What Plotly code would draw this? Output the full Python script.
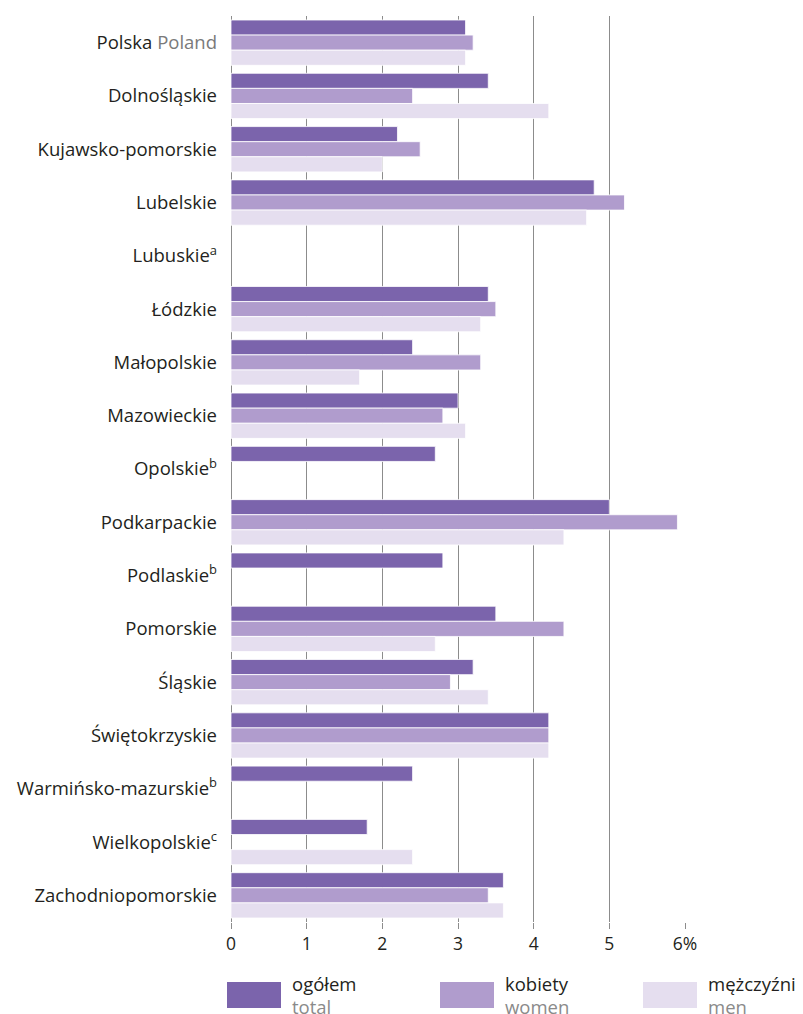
import plotly.graph_objects as go

regions = [
    "Polska <span style='color:#7a7a7a'>Poland</span>",
    "Dolnośląskie",
    "Kujawsko-pomorskie",
    "Lubelskie",
    "Lubuskie<sup>a</sup>",
    "Łódzkie",
    "Małopolskie",
    "Mazowieckie",
    "Opolskie<sup>b</sup>",
    "Podkarpackie",
    "Podlaskie<sup>b</sup>",
    "Pomorskie",
    "Śląskie",
    "Świętokrzyskie",
    "Warmińsko-mazurskie<sup>b</sup>",
    "Wielkopolskie<sup>c</sup>",
    "Zachodniopomorskie",
]
total = [3.1, 3.4, 2.2, 4.8, None, 3.4, 2.4, 3.0, 2.7, 5.0, 2.8, 3.5, 3.2, 4.2, 2.4, 1.8, 3.6]
women = [3.2, 2.4, 2.5, 5.2, None, 3.5, 3.3, 2.8, None, 5.9, None, 4.4, 2.9, 4.2, None, None, 3.4]
men = [3.1, 4.2, 2.0, 4.7, None, 3.3, 1.7, 3.1, None, 4.4, None, 2.7, 3.4, 4.2, None, 2.4, 3.6]

tick_vals = [0, 1, 2, 3, 4, 5, 6]
tick_text = ["0", "1", "2", "3", "4", "5", "6%"]

series = [
    ("ogółem", "total", total, "#7B64AC"),
    ("kobiety", "women", women, "#B09CCD"),
    ("mężczyźni", "men", men, "#E5DEEF"),
]

# page has an 8px body margin; figure sized to fit the window
OFF = 8
W, H = 803 - OFF, 1014 - OFF
L, R, T, B = 231 - OFF, 685 - OFF, 16 - OFF, 922 - OFF

fig = go.Figure()
for pl, en, vals, col in series:
    fig.add_trace(go.Bar(
        y=regions, x=vals, orientation="h", name=pl,
        marker=dict(color=col, line=dict(color="white", width=0.8)),
        showlegend=False,
    ))

def px(x):
    return (x - OFF - L) / (R - L)

def py(y):
    return (B - (y - OFF)) / (B - T)

leg_x = [227, 440, 643]
for (pl, en, vals, col), lx in zip(series, leg_x):
    fig.add_shape(type="rect", xref="paper", yref="paper",
                  x0=px(lx), x1=px(lx + 54), y0=py(1008), y1=py(982),
                  fillcolor=col, line=dict(width=0))
    fig.add_annotation(xref="paper", yref="paper", x=px(lx + 63), y=py(983),
                       text=pl, showarrow=False, xanchor="left", yanchor="middle",
                       font=dict(size=18.5, color="#231f20"))
    fig.add_annotation(xref="paper", yref="paper", x=px(lx + 63), y=py(1006),
                       text=en, showarrow=False, xanchor="left", yanchor="middle",
                       font=dict(size=18.5, color="#8a8a8a"))

fig.update_layout(
    width=W, height=H,
    margin=dict(l=L, r=W - R, t=T, b=H - B),
    paper_bgcolor="white", plot_bgcolor="white",
    barmode="group", bargap=0.15, bargroupgap=0,
    font=dict(family="Open Sans", size=18, color="#231f20"),
    xaxis=dict(range=[0, 6], tickvals=tick_vals, ticktext=tick_text,
               showgrid=True, gridcolor="#8c8c8c", gridwidth=1,
               zeroline=True, zerolinecolor="#8c8c8c", zerolinewidth=1,
               ticks="outside", ticklen=6, tickcolor="#8c8c8c",
               tickfont=dict(size=17.5, color="#231f20"), showline=False),
    yaxis=dict(autorange="reversed", showgrid=False, zeroline=False,
               ticks="", ticklabelstandoff=13,
               tickfont=dict(size=18.5, color="#231f20")),
)

fig.write_html("out.html")
